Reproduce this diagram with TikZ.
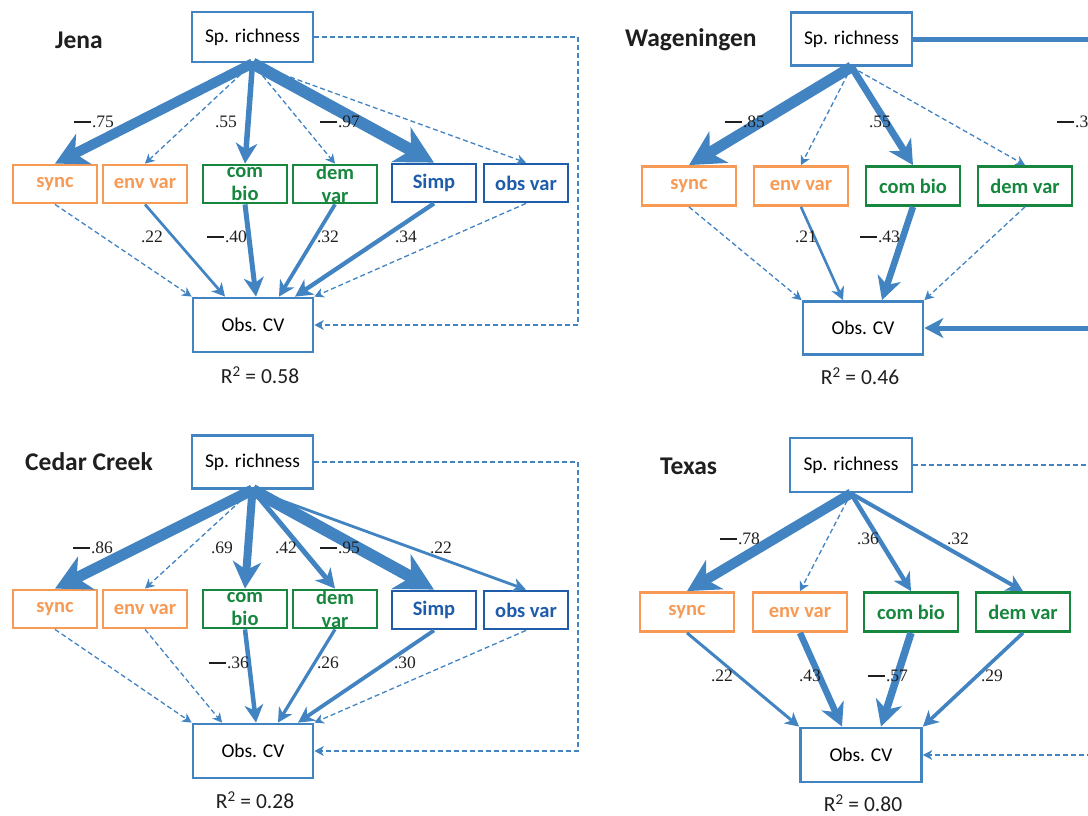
\documentclass[tikz,border=0pt]{standalone}
\usepackage{fontspec}
\setmainfont{Carlito}
\newfontfamily\numfont{Liberation Serif}
\usetikzlibrary{arrows.meta,calc}
\definecolor{lblue}{HTML}{4283C2}
\definecolor{orng}{HTML}{F79A55}
\definecolor{grn}{HTML}{17873F}
\definecolor{dblue}{HTML}{1F5CAA}
\newcommand{\negdash}{\rule[0.28em]{0.95em}{0.09em}\kern0.08em}
\tikzset{
  x=1pt, y=-1pt,
  bigbox/.style={draw=lblue, line width=2.8pt, fill=white, inner sep=0pt,
    minimum width=121pt, minimum height=53pt, font=\fontsize{19.5}{22}\selectfont},
  vbox/.style={draw=#1, text=#1, line width=2.8pt, fill=white, inner sep=0pt,
    minimum height=38pt, font=\bfseries\fontsize{20.5}{22}\selectfont},
  nbox/.style={vbox=#1, minimum width=84pt},
  wbox/.style={vbox=#1, minimum width=94pt, minimum height=39pt},
  twoline/.style={text=#1, align=center, inner sep=0pt, font=\bfseries\fontsize{20.5}{23}\selectfont},
  ttl/.style={anchor=west, inner sep=0pt, font=\bfseries\fontsize{25.5}{28}\selectfont, text=black!88},
  rsq/.style={inner sep=0pt, font=\fontsize{21.5}{24}\selectfont, text=black!88},
  lab/.style={inner sep=0pt, font=\numfont\fontsize{17.5}{19}\selectfont, text=black!88},
  ar/.style={draw=lblue, -{Stealth[length=6pt 2.6, width'=0pt 1.05, inset'=0pt 0.3]}},
  sol/.style={ar, line width=#1pt},
  dsh/.style={ar, line width=1.3pt, dash pattern=on 5pt off 3pt},
  dline/.style={draw=lblue, line width=1.3pt, dash pattern=on 5pt off 3pt},
}
\begin{document}
\begin{tikzpicture}
\useasboundingbox (0,0) rectangle (1088,815);
\clip (0,0) rectangle (1088,815);

% ================= JENA =================
\node[ttl] (tJ) at (55,40) {Jena};
\node[bigbox, minimum height=50pt] (SpJ) at (252.5,37) {Sp. richness};
\node[nbox=orng] (syncJ) at (55,184) {sync};
\node[nbox=orng] (envJ) at (145,184) {env var};
\node[nbox=grn] (comJ) at (245,184) {};
\node[twoline=grn] (comJt) at (245,184) {com\\bio};
\node[nbox=grn] (demJ) at (335,184) {};
\node[twoline=grn] (demJt) at (335,184) {dem\\var};
\node[nbox=dblue] (simpJ) at (434,183) {Simp};
\node[nbox=dblue] (obsJ) at (526,183) {obs var};
\node[bigbox, minimum width=120pt, minimum height=54pt] (ObsJ) at (253,325) {Obs. CV};
\node[rsq] (rJ) at (260,375) {R\textsuperscript{2} = 0.58};

\draw[sol=10] (SpJ.south) -- (syncJ.north);
\draw[dsh] (SpJ.south) -- (envJ.north);
\draw[sol=5.5] (SpJ.south) -- (comJ.north);
\draw[dsh] (SpJ.south) -- (demJ.north);
\draw[sol=12] (SpJ.south) -- (simpJ.north);
\draw[dsh] (SpJ.south) -- (obsJ.north);
\draw[dsh] (syncJ.south) -- (ObsJ.north west);
\draw[sol=2.7] (envJ.south) -- ($(ObsJ.north)+(-28,0)$);
\draw[sol=5] (comJ.south) -- ($(ObsJ.north)+(3,0)$);
\draw[sol=3.7] (demJ.south) -- ($(ObsJ.north)+(26,0)$);
\draw[sol=4.3] (simpJ.south) -- ($(ObsJ.north)+(42,0)$);
\draw[dsh] (obsJ.south) -- (ObsJ.north east);
\coordinate (fbJ) at (578,180);
\draw[dsh] (SpJ.east) -| (fbJ) |- (ObsJ.east);

\node[lab] (lJ1) at (94,122) {\negdash.75};
\node[lab] (lJ2) at (226,122) {.55};
\node[lab] (lJ3) at (340,122) {\negdash.97};
\node[lab] (lJ4) at (152,237) {.22};
\node[lab] (lJ5) at (227,237) {\negdash.40};
\node[lab] (lJ6) at (328,237) {.32};
\node[lab] (lJ7) at (406,237) {.34};

% ================= WAGENINGEN =================
\node[ttl] (tW) at (625,40) {Wageningen};
\node[bigbox] (SpW) at (851.5,39) {Sp. richness};
\node[wbox=orng] (syncW) at (689,186) {sync};
\node[wbox=orng] (envW) at (801,186) {env var};
\node[wbox=grn] (comW) at (913,186) {com bio};
\node[wbox=grn] (demW) at (1025,186) {dem var};
\node[bigbox, minimum width=120pt] (ObsW) at (863,328) {Obs. CV};
\node[rsq] (rW) at (860,376) {R\textsuperscript{2} = 0.46};

\draw[sol=11] (SpW.south) -- (syncW.north);
\draw[dsh] (SpW.south) -- (envW.north);
\draw[sol=7] (SpW.south) -- (comW.north);
\draw[dsh] (SpW.south) -- (demW.north);
\draw[dsh] (syncW.south) -- (ObsW.north west);
\draw[sol=2.6] (envW.south) -- ($(ObsW.north)+(-20,0)$);
\draw[sol=6.5] (comW.south) -- ($(ObsW.north)+(19,0)$);
\draw[dsh] (demW.south) -- (ObsW.north east);
\coordinate (edgeWa) at (1100,39);
\coordinate (edgeWb) at (1100,328);
\draw[draw=lblue, line width=5pt] (SpW.east) -- (SpW.east -| edgeWa);
\draw[sol=5] (ObsW.east -| edgeWb) -- (ObsW.east);

\node[lab] (lW1) at (745,122) {\negdash.85};
\node[lab] (lW2) at (880,122) {.55};
\node[lab, anchor=west] (lW3) at (1057,122) {\negdash.30};
\node[lab] (lW4) at (806,237) {.21};
\node[lab] (lW5) at (880,237) {\negdash.43};

% ================= CEDAR CREEK =================
\node[ttl] (tC) at (25,462) {Cedar Creek};
\node[bigbox] (SpC) at (252.5,462) {Sp. richness};
\node[nbox=orng] (syncC) at (55,609) {sync};
\node[nbox=orng] (envC) at (145,609) {env var};
\node[nbox=grn] (comC) at (245,609) {};
\node[twoline=grn] (comCt) at (245,609) {com\\bio};
\node[nbox=grn] (demC) at (335,609) {};
\node[twoline=grn] (demCt) at (335,609) {dem\\var};
\node[nbox=dblue] (simpC) at (434,610) {Simp};
\node[nbox=dblue] (obsC) at (526,610) {obs var};
\node[bigbox, minimum width=120pt, minimum height=54pt] (ObsC) at (253,751) {Obs. CV};
\node[rsq] (rC) at (255,800) {R\textsuperscript{2} = 0.28};

\draw[sol=11] (SpC.south) -- (syncC.north);
\draw[dsh] (SpC.south) -- (envC.north);
\draw[sol=8] (SpC.south) -- (comC.north);
\draw[sol=5] (SpC.south) -- (demC.north);
\draw[sol=12] (SpC.south) -- (simpC.north);
\draw[sol=2.8] (SpC.south) -- (obsC.north);
\draw[dsh] (syncC.south) -- (ObsC.north west);
\draw[dsh] (envC.south) -- ($(ObsC.north)+(-31,0)$);
\draw[sol=4.5] (comC.south) -- ($(ObsC.north)+(3,0)$);
\draw[sol=3.2] (demC.south) -- ($(ObsC.north)+(25,0)$);
\draw[sol=3.8] (simpC.south) -- ($(ObsC.north)+(45,0)$);
\draw[dsh] (obsC.south) -- (ObsC.north east);
\coordinate (fbC) at (578,600);
\draw[dsh] (SpC.east) -| (fbC) |- (ObsC.east);

\node[lab] (lC1) at (93,548) {\negdash.86};
\node[lab] (lC2) at (222,548) {.69};
\node[lab] (lC3) at (286,548) {.42};
\node[lab] (lC4) at (340,548) {\negdash.95};
\node[lab] (lC5) at (441,548) {.22};
\node[lab] (lC6) at (229,663) {\negdash.36};
\node[lab] (lC7) at (328,663) {.26};
\node[lab] (lC8) at (405,663) {.30};

% ================= TEXAS =================
\node[ttl] (tT) at (660,466) {Texas};
\node[bigbox, minimum width=122pt, minimum height=54pt] (SpT) at (851,465) {Sp. richness};
\node[wbox=orng] (syncT) at (687,612) {sync};
\node[wbox=orng] (envT) at (800,612) {env var};
\node[wbox=grn] (comT) at (911,612) {com bio};
\node[wbox=grn] (demT) at (1023,612) {dem var};
\node[bigbox, minimum width=121pt, minimum height=54pt] (ObsT) at (861,755) {Obs. CV};
\node[rsq] (rT) at (863,803) {R\textsuperscript{2} = 0.80};

\draw[sol=10] (SpT.south) -- (syncT.north);
\draw[dsh] (SpT.south) -- (envT.north);
\draw[sol=4.5] (SpT.south) -- (comT.north);
\draw[sol=4] (SpT.south) -- (demT.north);
\draw[sol=3] (syncT.south) -- (ObsT.north west);
\draw[sol=6.5] (envT.south) -- ($(ObsT.north)+(-19,0)$);
\draw[sol=7.5] (comT.south) -- ($(ObsT.north)+(20,0)$);
\draw[sol=3.6] (demT.south) -- (ObsT.north east);
\coordinate (edgeT) at (1100,600);
\draw[dline] (SpT.east) -- (SpT.east -| edgeT);
\draw[dsh] (ObsT.east -| edgeT) -- (ObsT.east);

\node[lab] (lT1) at (740,539) {\negdash.78};
\node[lab] (lT2) at (868,539) {.36};
\node[lab] (lT3) at (958,539) {.32};
\node[lab] (lT4) at (722,676) {.22};
\node[lab] (lT5) at (810,676) {.43};
\node[lab] (lT6) at (888,676) {\negdash.57};
\node[lab] (lT7) at (992,676) {.29};
\end{tikzpicture}
\end{document}
